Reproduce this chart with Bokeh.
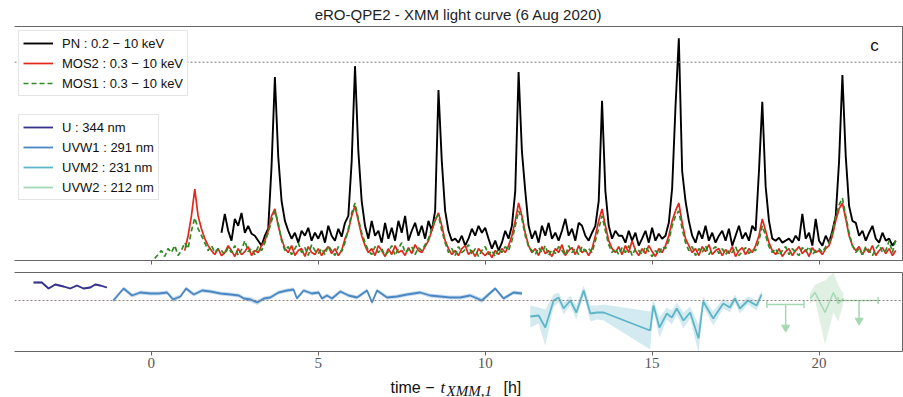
import numpy as np
from bokeh.plotting import figure
from bokeh.models import Range1d, LinearAxis, FixedTicker, Legend, LegendItem, Label, Span
from bokeh.layouts import column
from bokeh.embed import file_html
from bokeh.resources import INLINE

nan = float("nan")

# ---------------- X-ray light curves (count rate, 0.1 h bins) ----------------
bin_h = 0.1
pn_t0 = 2.1
pn_rate = [
    0.28, 0.47, 0.30, 0.20, 0.42, 0.35, 0.48, 0.28, 0.35, 0.27,
    0.25, 0.20, 0.15, 0.25, 0.32, 0.95, 1.85, 1.05, 0.60, 0.40,
    0.30, 0.22, 0.28, 0.18, 0.30, 0.25, 0.33, 0.20, 0.28, 0.22,
    0.30, 0.18, 0.35, 0.25, 0.20, 0.32, 0.24, 0.38, 0.45, 1.00,
    1.96, 1.10, 0.60, 0.35, 0.22, 0.40, 0.25, 0.30, 0.18, 0.38,
    0.22, 0.33, 0.20, 0.40, 0.28, 0.45, 0.20, 0.30, 0.38, 0.25,
    0.35, 0.22, 0.40, 0.30, 0.50, 1.72, 1.00, 0.50, 0.30, 0.20,
    0.22, 0.18, 0.25, 0.15, 0.22, 0.32, 0.25, 0.35, 0.28, 0.33,
    0.22, 0.12, 0.20, 0.10, 0.18, 0.30, 0.22, 0.35, 0.70, 1.90,
    1.10, 0.70, 0.35, 0.22, 0.30, 0.18, 0.35, 0.25, 0.38, 0.22,
    0.28, 0.20, 0.30, 0.42, 0.25, 0.32, 0.20, 0.38, 0.35, 0.25,
    0.20, 0.28, 0.35, 0.60, 1.61, 0.70, 0.35, 0.22, 0.30, 0.25,
    0.25, 0.18, 0.30, 0.20, 0.28, 0.15, 0.22, 0.30, 0.18, 0.33,
    0.20, 0.27, 0.22, 0.25, 0.38, 0.73, 1.55, 2.24, 0.90, 0.60,
    0.40, 0.25, 0.18, 0.30, 0.22, 0.35, 0.20, 0.28, 0.18, 0.25,
    0.30, 0.20, 0.32, 0.15, 0.25, 0.35, 0.22, 0.28, 0.20, 0.35,
    0.30, 0.90, 1.60, 0.75, 0.40, 0.22, 0.20, 0.23, 0.18, 0.20,
    0.22, 0.18, 0.25, 0.20, 0.47, 0.22, 0.28, 0.15, 0.42, 0.20,
    0.15, 0.25, 0.18, 0.30, 0.45, 1.00, 1.87, 1.05, 0.55, 0.40,
    0.38, 0.25, 0.30, 0.20, 0.28, 0.35, 0.22, 0.18, 0.28, 0.20,
    0.22, 0.15, 0.20,
]

mos_t0 = 0.1
mos2_rate = [
    nan, nan, nan, nan, nan, nan, nan, nan, nan, 0.10,
    0.25, 0.45, 0.72, 0.45, 0.32, 0.22, 0.15, 0.10, 0.06, 0.12,
    0.05, 0.08, 0.15, 0.10, 0.04, 0.12, 0.06, 0.09, 0.14, 0.05,
    0.10, 0.08, 0.15, 0.20, 0.30, 0.45, 0.52, 0.35, 0.22, 0.12,
    0.08, 0.15, 0.05, 0.10, 0.12, 0.04, 0.14, 0.08, 0.06, 0.12,
    0.05, 0.10, 0.14, 0.07, 0.12, 0.05, 0.10, 0.22, 0.30, 0.45,
    0.55, 0.40, 0.25, 0.15, 0.08, 0.12, 0.05, 0.15, 0.10, 0.04,
    0.12, 0.06, 0.15, 0.08, 0.10, 0.05, 0.13, 0.07, 0.16, 0.10,
    0.08, 0.14, 0.20, 0.30, 0.40, 0.48, 0.35, 0.20, 0.12, 0.06,
    0.10, 0.05, 0.12, 0.15, 0.06, 0.10, 0.04, 0.12, 0.08, 0.05,
    0.09, 0.03, 0.10, 0.06, 0.12, 0.08, 0.15, 0.25, 0.40, 0.58,
    0.45, 0.28, 0.15, 0.08, 0.12, 0.05, 0.14, 0.07, 0.10, 0.04,
    0.12, 0.08, 0.16, 0.05, 0.10, 0.13, 0.06, 0.15, 0.08, 0.11,
    0.05, 0.12, 0.25, 0.40, 0.52, 0.35, 0.20, 0.12, 0.08, 0.14,
    0.06, 0.15, 0.08, 0.20, 0.10, 0.05, 0.12, 0.07, 0.15, 0.09,
    0.04, 0.12, 0.08, 0.15, 0.25, 0.40, 0.50, 0.58, 0.38, 0.22,
    0.15, 0.08, 0.12, 0.05, 0.14, 0.09, 0.16, 0.06, 0.10, 0.12,
    0.05, 0.11, 0.07, 0.14, 0.04, 0.10, 0.13, 0.06, 0.12, 0.08,
    0.15, 0.25, 0.42, 0.30, 0.18, 0.10, 0.06, 0.12, 0.04, 0.09,
    0.12, 0.05, 0.10, 0.14, 0.07, 0.11, 0.04, 0.13, 0.08, 0.10,
    0.06, 0.12, 0.15, 0.25, 0.40, 0.52, 0.58, 0.42, 0.25, 0.15,
    0.10, 0.14, 0.06, 0.12, 0.08, 0.15, 0.05, 0.10, 0.13, 0.07,
    0.12, 0.05, 0.10,
]
mos1_rate = [
    0.02, 0.06, 0.10, 0.04, 0.12, 0.08, 0.15, 0.05, 0.10, 0.18,
    0.12, 0.30, 0.43, 0.32, 0.25, 0.18, 0.10, 0.15, 0.08, 0.12,
    0.10, 0.06, 0.13, 0.08, 0.15, 0.05, 0.11, 0.20, 0.09, 0.12,
    0.06, 0.14, 0.10, 0.18, 0.28, 0.40, 0.50, 0.38, 0.20, 0.10,
    0.14, 0.06, 0.12, 0.18, 0.08, 0.13, 0.05, 0.16, 0.10, 0.07,
    0.12, 0.06, 0.15, 0.10, 0.05, 0.14, 0.09, 0.18, 0.32, 0.48,
    0.58, 0.42, 0.28, 0.18, 0.10, 0.06, 0.14, 0.08, 0.12, 0.05,
    0.09, 0.15, 0.05, 0.12, 0.18, 0.08, 0.11, 0.14, 0.06, 0.13,
    0.10, 0.16, 0.22, 0.32, 0.42, 0.46, 0.30, 0.18, 0.08, 0.12,
    0.05, 0.14, 0.08, 0.11, 0.16, 0.06, 0.12, 0.04, 0.10, 0.14,
    0.06, 0.10, 0.04, 0.12, 0.08, 0.14, 0.10, 0.20, 0.35, 0.50,
    0.42, 0.25, 0.14, 0.10, 0.06, 0.13, 0.08, 0.15, 0.05, 0.11,
    0.07, 0.14, 0.10, 0.05, 0.15, 0.08, 0.12, 0.06, 0.14, 0.09,
    0.12, 0.08, 0.20, 0.32, 0.45, 0.30, 0.16, 0.08, 0.12, 0.06,
    0.13, 0.08, 0.15, 0.05, 0.12, 0.10, 0.06, 0.14, 0.09, 0.04,
    0.10, 0.06, 0.14, 0.12, 0.20, 0.35, 0.45, 0.50, 0.32, 0.18,
    0.10, 0.14, 0.05, 0.12, 0.08, 0.15, 0.06, 0.11, 0.14, 0.07,
    0.12, 0.06, 0.10, 0.08, 0.14, 0.05, 0.09, 0.13, 0.07, 0.11,
    0.10, 0.20, 0.35, 0.25, 0.14, 0.08, 0.12, 0.05, 0.10, 0.14,
    0.06, 0.12, 0.08, 0.05, 0.13, 0.09, 0.14, 0.06, 0.10, 0.12,
    0.08, 0.14, 0.18, 0.28, 0.45, 0.56, 0.63, 0.45, 0.28, 0.15,
    0.08, 0.12, 0.06, 0.14, 0.10, 0.05, 0.12, 0.16, 0.08, 0.10,
    0.20, 0.08, 0.22,
]
xray_ref_level = 2.0

# ---------------- UV light curves (normalised flux) ----------------
u_t = [-3.53, -3.28, -3.08, -2.88, -2.63, -2.43, -2.23, -2.03, -1.83, -1.68, -1.53, -1.33]
u_flux = [1.18, 1.18, 1.12, 1.16, 1.14, 1.12, 1.15, 1.12, 1.13, 1.16, 1.15, 1.13]
u_err = [0.01, 0.01, 0.01, 0.01, 0.01, 0.01, 0.01, 0.01, 0.01, 0.01, 0.01, 0.01]

uvw1_t = [-1.14, -0.83, -0.58, -0.33, -0.03, 0.22, 0.47, 0.65, 0.87, 1.04,
          1.27, 1.52, 1.77, 2.07, 2.37, 2.62, 2.77, 2.97, 3.17, 3.37,
          3.56, 3.81, 4.06, 4.26, 4.36, 4.56, 4.81, 5.01, 5.11, 5.26,
          5.41, 5.66, 5.91, 6.16, 6.46, 6.61, 6.76, 7.06, 7.36, 7.66,
          8.05, 8.35, 8.95, 9.25, 9.55, 9.90, 10.30, 10.55, 10.85, 11.10]
uvw1_flux = [1.00, 1.12, 1.05, 1.08, 1.07, 1.07, 1.08, 1.01, 1.04, 1.12,
             1.06, 1.10, 1.09, 1.07, 1.06, 1.05, 1.02, 1.01, 0.98, 1.02,
             1.03, 1.08, 1.10, 1.11, 1.02, 1.10, 1.07, 1.08, 1.02, 1.05,
             1.02, 1.09, 1.05, 1.03, 1.10, 0.98, 1.10, 1.03, 1.04, 1.06,
             1.08, 1.05, 1.03, 1.03, 1.05, 1.00, 1.12, 1.02, 1.08, 1.07]
uvw1_err = [0.02, 0.02, 0.02, 0.02, 0.02, 0.02, 0.02, 0.025, 0.02, 0.02,
            0.02, 0.02, 0.02, 0.02, 0.02, 0.02, 0.02, 0.025, 0.025, 0.02,
            0.02, 0.02, 0.02, 0.02, 0.02, 0.02, 0.02, 0.02, 0.02, 0.02,
            0.02, 0.02, 0.02, 0.02, 0.02, 0.025, 0.02, 0.02, 0.02, 0.02,
            0.02, 0.02, 0.02, 0.02, 0.02, 0.025, 0.02, 0.02, 0.02, 0.02]

uvm2_t = [11.35, 11.60, 11.80, 12.05, 12.20, 12.35, 12.55, 12.73, 12.95, 13.15,
          13.35, 13.55, 14.94, 15.04, 15.22, 15.44, 15.59, 15.74, 15.94, 16.14,
          16.39, 16.53, 16.83, 17.13, 17.33, 17.48, 17.63, 17.87, 18.13, 18.28]
uvm2_flux = [0.84, 0.85, 0.73, 1.00, 1.03, 0.92, 1.00, 0.88, 1.10, 0.87,
             0.88, 0.88, 0.70, 0.95, 0.73, 0.87, 0.83, 0.92, 0.80, 0.88,
             0.62, 0.99, 0.82, 0.97, 0.93, 1.02, 0.92, 1.00, 0.95, 1.06]
uvm2_err = [0.11, 0.08, 0.18, 0.06, 0.05, 0.06, 0.05, 0.07, 0.05, 0.08,
            0.07, 0.08, 0.19, 0.06, 0.10, 0.06, 0.07, 0.06, 0.08, 0.06,
            0.14, 0.05, 0.07, 0.05, 0.05, 0.04, 0.05, 0.04, 0.05, 0.04]

uvw2_t = [19.73, 19.88, 20.18, 20.43, 20.58, 20.73]
uvw2_flux = [1.02, 1.08, 0.88, 1.08, 0.97, 1.02]
uvw2_err = [0.05, 0.08, 0.32, 0.20, 0.18, 0.05]

# UVW2 upper limits
ul_t = [19.00, 21.20]
ul_t_lo = [18.44, 20.57]
ul_t_hi = [19.55, 21.77]
ul_flux = [0.96, 1.00]
ul_arrow_end = [0.73, 0.80]
uv_ref_level = 1.0

x_ticks = [0, 5, 10, 15, 20]
title_text = "eRO-QPE2 - XMM light curve (6 Aug 2020)"

# ---------------- styles ----------------
C_PN, C_MOS2, C_MOS1 = "#000000", "#e4261c", "#2e8b22"
C_U, C_W1, C_M2, C_W2 = "#34348c", "#4a88c4", "#5db5c8", "#a5d8b2"
SPINE = "#666666"
SANS = "Liberation Sans"
SERIF = "Liberation Serif"

pn_t = np.round(pn_t0 + bin_h * np.arange(len(pn_rate)), 2)
mos_t = np.round(mos_t0 + bin_h * np.arange(len(mos2_rate)), 2)

xr = Range1d(-4.1, 22.5)


def frame_axes(p, labels):
    p.outline_line_color = None
    p.grid.visible = False
    ax = p.xaxis[0]
    ax.axis_line_color = SPINE
    if labels:
        ax.ticker = FixedTicker(ticks=x_ticks)
        ax.minor_tick_line_color = None
        ax.major_tick_in = 0
        ax.major_tick_out = 4
        ax.major_tick_line_color = SPINE
        ax.major_label_text_font = SERIF
        ax.major_label_text_font_size = "15px"
        ax.major_label_text_color = "#555555"
        ax.major_label_standoff = 2
    else:
        # ticks only, no labels: use minor ticks (they carry no labels)
        ax.ticker = FixedTicker(ticks=[], minor_ticks=x_ticks)
        ax.major_tick_in = 0
        ax.major_tick_out = 0
        ax.minor_tick_in = 0
        ax.minor_tick_out = 4
        ax.minor_tick_line_color = SPINE
        ax.major_label_standoff = 0
    for loc in ("above", "right"):
        a = LinearAxis(ticker=FixedTicker(ticks=[]), axis_line_color=SPINE,
                       major_tick_in=0, major_tick_out=0, minor_tick_in=0, minor_tick_out=0,
                       major_label_standoff=0)
        p.add_layout(a, loc)


# ---------------- top panel ----------------
p1 = figure(width=903, height=266, x_range=xr, y_range=Range1d(0, 2.36),
            output_backend="svg", toolbar_location=None, y_axis_location=None,
            min_border_left=14, min_border_right=1, min_border_top=24, min_border_bottom=6)
p1.title.text = title_text
p1.title.align = "center"
p1.title.text_font = SANS
p1.title.text_font_size = "15px"
p1.title.text_font_style = "normal"
p1.title.text_color = "#222222"
p1.title.standoff = 7
frame_axes(p1, False)

p1.add_layout(Span(location=xray_ref_level, dimension="width", line_color="#777777",
                   line_dash="2 2", line_width=1))

r_pn = p1.line(pn_t, pn_rate, line_color=C_PN, line_width=1.9)
r_m2 = p1.line(mos_t, mos2_rate, line_color=C_MOS2, line_width=1.7)
r_m1 = p1.line(mos_t, mos1_rate, line_color=C_MOS1, line_width=1.7, line_dash="5 3")

# legend proxies for UV series (drawn in lower panel)
r_u = p1.line([nan], [nan], line_color=C_U, line_width=1.8)
r_w1 = p1.line([nan], [nan], line_color=C_W1, line_width=1.8)
r_m2uv = p1.line([nan], [nan], line_color=C_M2, line_width=1.8)
r_w2 = p1.line([nan], [nan], line_color=C_W2, line_width=1.8)


def mk_legend(items, loc):
    lg = Legend(items=items, location=loc, orientation="vertical",
                label_text_font=SANS, label_text_font_size="13px", label_text_color="#111111",
                glyph_width=30, glyph_height=16, label_height=16, label_standoff=9,
                spacing=4, padding=4, margin=0,
                border_line_color="#cccccc", border_line_width=1,
                background_fill_color="white", background_fill_alpha=0.85)
    p1.add_layout(lg)
    return lg


mk_legend([LegendItem(label="PN : 0.2 − 10 keV", renderers=[r_pn]),
           LegendItem(label="MOS2 : 0.3 − 10 keV", renderers=[r_m2]),
           LegendItem(label="MOS1 : 0.3 − 10 keV", renderers=[r_m1])], (4, 164))
mk_legend([LegendItem(label="U : 344 nm", renderers=[r_u]),
           LegendItem(label="UVW1 : 291 nm", renderers=[r_w1]),
           LegendItem(label="UVM2 : 231 nm", renderers=[r_m2uv]),
           LegendItem(label="UVW2 : 212 nm", renderers=[r_w2])], (4, 60))

p1.add_layout(Label(x=860, y=215, x_units="screen", y_units="screen", text="c",
                    text_font=SANS, text_font_size="17px", text_align="center",
                    text_baseline="middle", text_color="#111111"))

# ---------------- lower panel ----------------
p2 = figure(width=903, height=109, x_range=xr, y_range=Range1d(0.49, 1.28),
            output_backend="svg", toolbar_location=None, y_axis_location=None,
            min_border_left=14, min_border_right=1, min_border_top=6, min_border_bottom=24)
frame_axes(p2, True)

p2.add_layout(Span(location=uv_ref_level, dimension="width", line_color="#8a807a",
                   line_dash="2 2", line_width=1))


def uv_series(t, f, e, col, band_alpha, lw=1.8):
    t = np.array(t); f = np.array(f); e = np.array(e)
    p2.varea(x=t, y1=f - e, y2=f + e, fill_color=col, fill_alpha=band_alpha)
    p2.line(t, f, line_color=col, line_width=lw)


uv_series(u_t, u_flux, u_err, C_U, 0.35)
uv_series(uvw1_t, uvw1_flux, uvw1_err, C_W1, 0.3)
uv_series(uvm2_t, uvm2_flux, uvm2_err, C_M2, 0.28)
uv_series(uvw2_t, uvw2_flux, uvw2_err, C_W2, 0.35, lw=1.5)

# upper limits
p2.segment(x0=ul_t_lo, y0=ul_flux, x1=ul_t_hi, y1=ul_flux, line_color=C_W2, line_width=1.5)
p2.segment(x0=ul_t, y0=ul_flux, x1=ul_t, y1=ul_arrow_end, line_color=C_W2, line_width=1.5)
p2.scatter(x=ul_t_lo + ul_t_hi, y=ul_flux + ul_flux, marker="dash", angle=np.pi / 2,
           size=7, line_color=C_W2, line_width=1.5)
p2.scatter(x=ul_t, y=ul_arrow_end, marker="inverted_triangle", size=8,
           fill_color=C_W2, line_color=C_W2)

# ---------------- x-axis label strip: time − t_XMM,1 [h] ----------------
p3 = figure(width=903, height=22, x_range=Range1d(0, 1), y_range=Range1d(0, 1),
            output_backend="svg", toolbar_location=None,
            x_axis_location=None, y_axis_location=None,
            min_border_left=0, min_border_right=0, min_border_top=0, min_border_bottom=0)
p3.outline_line_color = None
p3.grid.visible = False
lab_kw = dict(x_units="screen", y_units="screen", text_baseline="alphabetic", text_color="#111111")
p3.add_layout(Label(x=376, y=10, text="time −", text_font=SANS, text_font_size="16px", **lab_kw))
p3.add_layout(Label(x=426, y=10, text="t", text_font=SERIF, text_font_style="italic",
                    text_font_size="17px", **lab_kw))
p3.add_layout(Label(x=432, y=7, text="XMM,1", text_font=SERIF, text_font_style="italic",
                    text_font_size="15px", **lab_kw))
p3.add_layout(Label(x=489, y=10, text="[h]", text_font=SANS, text_font_size="16px", **lab_kw))

layout = column(p1, p2, p3, spacing=0)
open("out.html", "w").write(file_html(layout, INLINE))
